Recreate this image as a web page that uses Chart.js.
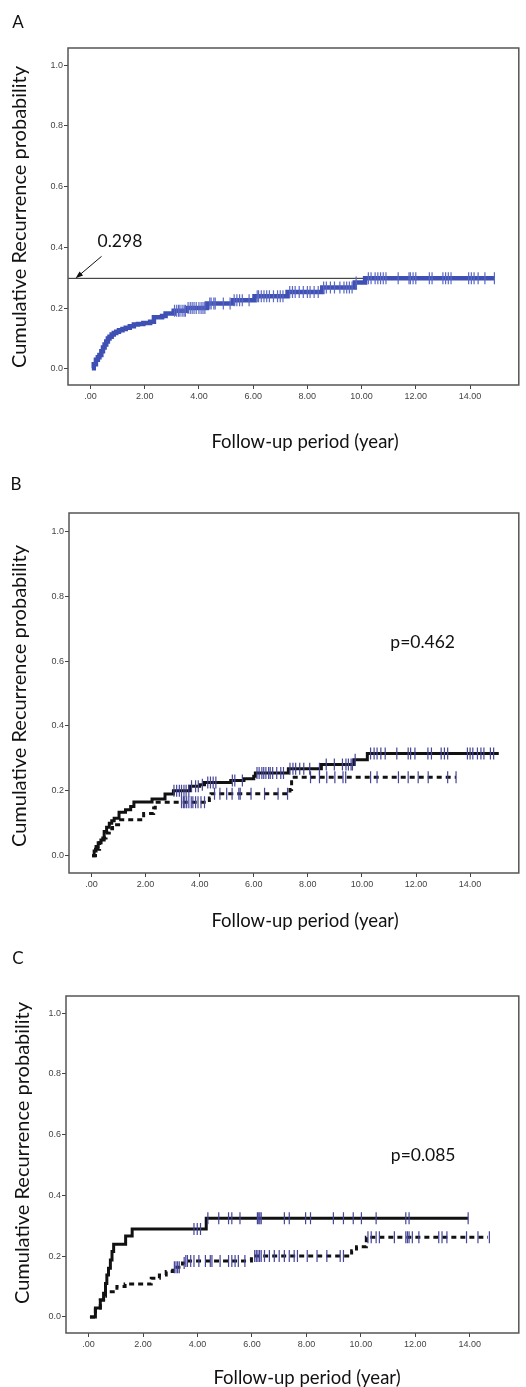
<!DOCTYPE html>
<html>
<head>
<meta charset="utf-8">
<title>Cumulative recurrence</title>
<script src="https://cdn.jsdelivr.net/npm/chart.js@4.4.0/dist/chart.umd.min.js"></script>
<style>
  body { margin: 0; background: #fff; width: 526px; height: 1387px; position: relative; overflow: hidden; }
  .panel { position: absolute; left: 0; }
</style>
</head>
<body>
<canvas id="chartA" class="panel" width="526" height="470" style="top:0px"></canvas>
<canvas id="chartB" class="panel" width="526" height="480" style="top:470px"></canvas>
<canvas id="chartC" class="panel" width="526" height="437" style="top:950px"></canvas>
<script>
// ticks
const xTickValues = [0, 2, 4, 6, 8, 10, 12, 14];
const xTickLabels = ['.00', '2.00', '4.00', '6.00', '8.00', '10.00', '12.00', '14.00'];
const yTickValues = [0, 0.2, 0.4, 0.6, 0.8, 1.0];
const yTickLabels = ['0.0', '0.2', '0.4', '0.6', '0.8', '1.0'];
const xTitle = 'Follow-up period (year)';
const yTitle = 'Cumulative Recurrence probability';

// A: whole cohort
const aTimes = [0.05, 0.12, 0.2, 0.27, 0.33, 0.4, 0.46, 0.52, 0.58, 0.64, 0.7, 0.78, 0.86, 0.95, 1.05, 1.18, 1.3, 1.45, 1.6, 1.75, 1.95, 2.2, 2.34, 2.64, 2.77, 3.07, 3.55, 4.29, 5.26, 6.05, 7.27, 8.55, 9.75, 10.13, 14.92];
const aProbs = [0.002, 0.015, 0.03, 0.038, 0.046, 0.058, 0.07, 0.08, 0.09, 0.1, 0.106, 0.113, 0.118, 0.122, 0.127, 0.131, 0.135, 0.14, 0.146, 0.148, 0.151, 0.155, 0.17, 0.174, 0.182, 0.191, 0.2, 0.215, 0.226, 0.239, 0.253, 0.268, 0.284, 0.298, 0.298];
const aCensor = [3.1, 3.18, 3.25, 3.3, 3.38, 3.45, 3.5, 3.6, 3.68, 3.75, 3.82, 3.9, 4.0, 4.08, 4.15, 4.22, 4.4, 4.45, 4.55, 4.6, 4.9, 5.15, 5.3, 5.4, 5.5, 5.6, 5.85, 6.15, 6.2, 6.3, 6.4, 6.5, 6.6, 6.75, 6.9, 7.0, 7.1, 7.35, 7.45, 7.55, 7.7, 7.85, 8.0, 8.1, 8.25, 8.4, 8.6, 8.7, 8.85, 9.0, 9.2, 9.35, 9.45, 9.55, 9.65, 9.8, 10.25, 10.35, 10.5, 10.6, 10.7, 10.8, 10.9, 11.35, 11.75, 11.8, 11.9, 12.0, 12.5, 12.6, 13.0, 13.1, 13.2, 13.3, 13.95, 14.05, 14.15, 14.3, 14.55, 14.9];
const aPlateau = 0.298;
const aPlateauLabel = '0.298';

// B: two groups
const bSolidTimes = [0.02, 0.1, 0.17, 0.25, 0.35, 0.47, 0.56, 0.66, 0.75, 0.84, 1.02, 1.26, 1.45, 1.57, 2.24, 2.72, 3.03, 3.63, 4.0, 4.18, 5.15, 5.64, 6.0, 6.06, 7.28, 8.5, 9.71, 10.2, 15.06];
const bSolidProbs = [0, 0.015, 0.029, 0.04, 0.049, 0.075, 0.088, 0.1, 0.108, 0.116, 0.134, 0.142, 0.152, 0.166, 0.175, 0.19, 0.2, 0.214, 0.219, 0.226, 0.232, 0.237, 0.245, 0.255, 0.268, 0.281, 0.296, 0.315, 0.315];
const bSolidCensor = [3.05, 3.15, 3.25, 3.33, 3.42, 3.5, 3.6, 3.7, 3.85, 3.95, 4.1, 4.3, 4.4, 4.5, 4.6, 5.21, 5.3, 5.58, 6.12, 6.2, 6.3, 6.37, 6.45, 6.55, 6.61, 6.7, 6.85, 7.0, 7.1, 7.34, 7.45, 7.55, 7.7, 7.85, 8.07, 8.43, 8.68, 8.98, 9.28, 9.41, 9.5, 9.6, 9.65, 9.75, 10.32, 10.45, 10.56, 10.7, 10.86, 11.29, 11.71, 11.8, 11.96, 12.44, 12.57, 12.93, 13.05, 13.17, 13.9, 14.0, 14.1, 14.27, 14.4, 14.51, 14.75, 14.87];
const bDashTimes = [0.03, 0.15, 0.3, 0.42, 0.54, 0.66, 0.78, 1.08, 1.93, 2.3, 2.36, 4.36, 4.42, 7.34, 7.4, 13.48];
const bDashProbs = [0, 0.02, 0.04, 0.055, 0.07, 0.083, 0.096, 0.111, 0.13, 0.147, 0.165, 0.178, 0.191, 0.204, 0.242, 0.242];
const bDashCensor = [3.33, 3.4, 3.45, 3.52, 3.6, 3.69, 3.75, 3.85, 3.94, 4.05, 4.18, 4.55, 4.75, 5.0, 5.2, 5.45, 5.5, 5.9, 6.4, 6.9, 7.25, 8.1, 8.43, 8.7, 9.0, 9.3, 9.4, 10.32, 10.56, 11.35, 11.71, 12.08, 12.45, 13.17, 13.48];
const bPValue = 'p=0.462';

// C: two groups
const cSolidTimes = [0.05, 0.25, 0.43, 0.55, 0.62, 0.67, 0.73, 0.8, 0.86, 0.92, 1.36, 1.6, 4.32, 13.94];
const cSolidProbs = [0, 0.029, 0.056, 0.078, 0.11, 0.138, 0.16, 0.1875, 0.215, 0.239, 0.266, 0.289, 0.325, 0.325];
const cSolidCensor = [3.87, 3.99, 4.11, 4.38, 4.78, 5.14, 5.26, 5.56, 6.2, 6.25, 6.29, 6.34, 7.19, 7.37, 7.97, 8.15, 8.99, 9.36, 9.72, 10.02, 10.56, 11.65, 11.77, 13.94];
const cDashTimes = [0.05, 0.25, 0.43, 0.55, 0.62, 1.04, 1.34, 2.3, 2.6, 2.85, 3.09, 3.45, 3.57, 5.98, 9.66, 9.84, 10.2, 14.67];
const cDashProbs = [0, 0.029, 0.056, 0.068, 0.083, 0.1, 0.108, 0.127, 0.138, 0.149, 0.163, 0.177, 0.184, 0.2, 0.218, 0.231, 0.262, 0.262];
const cDashCensor = [3.15, 3.21, 3.27, 3.33, 3.51, 3.57, 3.63, 3.75, 3.87, 4.05, 4.29, 4.47, 4.53, 4.83, 5.14, 5.26, 5.38, 5.5, 5.74, 6.1, 6.16, 6.22, 6.28, 6.34, 6.46, 6.64, 6.82, 7.0, 7.19, 7.37, 7.55, 7.67, 8.03, 8.39, 8.75, 9.24, 9.36, 10.26, 10.38, 10.56, 10.68, 11.23, 11.65, 11.71, 11.77, 11.89, 12.13, 12.86, 12.98, 13.16, 13.88, 14.3, 14.72];
const cPValue = 'p=0.085';

const X_MIN = -0.83, X_MAX = 15.8;
const Y_MIN = -0.053, Y_MAX = 1.056;

function stepPoints(times, probs) {
  return times.map((t, i) => ({ x: t, y: probs[i] }));
}

// censored cases sit on the curve at the value reached by then
function censorPoints(censor, times, probs) {
  return censor.map(t => {
    let y = probs[0];
    for (let i = 0; i < times.length; i++) {
      if (times[i] <= t) y = probs[i];
    }
    return { x: t, y: y };
  });
}

function stepSet(times, probs, color, width, dash) {
  return {
    data: stepPoints(times, probs),
    stepped: 'before',
    borderColor: color,
    borderWidth: width,
    borderDash: dash || [],
    pointRadius: 0,
    fill: false,
    order: 2
  };
}

function censorSet(censor, times, probs, color, radius) {
  return {
    data: censorPoints(censor, times, probs),
    showLine: false,
    pointStyle: 'line',
    pointRotation: 90,
    pointRadius: radius,
    pointBorderWidth: 1.2,
    pointBorderColor: color,
    pointBackgroundColor: color,
    order: 1
  };
}

const panelText = {
  id: 'panelText',
  afterDraw(chart, args, opts) {
    const ctx = chart.ctx;
    const a = chart.chartArea;
    const xs = chart.scales.x, ys = chart.scales.y;
    ctx.save();
    ctx.strokeStyle = '#555';
    ctx.lineWidth = 1.5;
    ctx.strokeRect(a.left, a.top, a.right - a.left, a.bottom - a.top);

    ctx.fillStyle = '#111';
    ctx.textAlign = 'center';
    ctx.textBaseline = 'middle';
    ctx.font = '17px Lato';
    ctx.fillText(opts.letter, opts.letterPos[0], opts.letterPos[1]);

    ctx.font = '18.5px Lato';
    ctx.fillText(xTitle, opts.xTitlePos[0], opts.xTitlePos[1]);
    ctx.font = '20px Lato';
    ctx.save();
    ctx.translate(opts.yTitlePos[0], opts.yTitlePos[1]);
    ctx.rotate(-Math.PI / 2);
    ctx.fillText(yTitle, 0, 0);
    ctx.restore();

    if (opts.note) {
      ctx.textAlign = 'left';
      ctx.font = '17.5px Lato';
      ctx.fillText(opts.note, xs.getPixelForValue(opts.noteAt[0]), ys.getPixelForValue(opts.noteAt[1]));
    }

    if (opts.arrow) {
      // arrow pointing at the plateau line
      const hx = xs.getPixelForValue(opts.arrow.x);
      const hy = ys.getPixelForValue(opts.arrow.y);
      const tx = hx + 26, ty = hy - 22;
      ctx.strokeStyle = '#111';
      ctx.lineWidth = 1;
      ctx.beginPath();
      ctx.moveTo(tx, ty);
      ctx.lineTo(hx + 4, hy - 3.4);
      ctx.stroke();
      const ang = Math.atan2(hy - ty, hx - tx);
      ctx.beginPath();
      ctx.moveTo(hx, hy);
      ctx.lineTo(hx - 8 * Math.cos(ang - 0.35), hy - 8 * Math.sin(ang - 0.35));
      ctx.lineTo(hx - 8 * Math.cos(ang + 0.35), hy - 8 * Math.sin(ang + 0.35));
      ctx.closePath();
      ctx.fillStyle = '#111';
      ctx.fill();
      ctx.textAlign = 'left';
      ctx.font = '17.5px Lato';
      ctx.fillText(opts.arrow.label, tx - 4, ty - 15);
    }
    ctx.restore();
  }
};

function makeChart(id, area, datasets, textOpts) {
  const canvas = document.getElementById(id);
  const W = canvas.width, H = canvas.height;
  return new Chart(canvas, {
    type: 'line',
    data: { datasets: datasets },
    options: {
      responsive: false,
      animation: false,
      devicePixelRatio: 1,
      layout: { padding: { left: 0, top: area.top, right: W - area.right, bottom: 0 } },
      plugins: {
        legend: { display: false },
        tooltip: { enabled: false },
        panelText: textOpts
      },
      scales: {
        x: {
          type: 'linear',
          min: X_MIN,
          max: X_MAX,
          afterBuildTicks: s => { s.ticks = xTickValues.map(v => ({ value: v })); },
          afterFit: s => { s.height = H - area.bottom; },
          ticks: {
            padding: 2,
            maxRotation: 0,
            color: '#444',
            font: { family: 'Liberation Sans', size: 9 },
            callback: v => xTickLabels[xTickValues.indexOf(v)]
          },
          grid: { drawOnChartArea: false, drawTicks: true, tickLength: 4, color: '#444' },
          border: { display: false }
        },
        y: {
          min: Y_MIN,
          max: Y_MAX,
          afterBuildTicks: s => { s.ticks = yTickValues.map(v => ({ value: v })); },
          afterFit: s => { s.width = area.left; },
          ticks: {
            padding: 1,
            color: '#444',
            font: { family: 'Liberation Sans', size: 9 },
            callback: v => yTickLabels[yTickValues.indexOf(v)]
          },
          grid: { drawOnChartArea: false, drawTicks: true, tickLength: 4, color: '#444' },
          border: { display: false }
        }
      }
    },
    plugins: [panelText]
  });
}

const blueLine = '#3f50b4';
const blueTick = '#5a68c4';
const navyTick = '#45459a';
const black = '#111';

makeChart('chartA', { left: 68, top: 48, right: 523, bottom: 385 }, [
  {
    data: [{ x: X_MIN, y: aPlateau }, { x: aTimes[aTimes.length - 1], y: aPlateau }],
    borderColor: '#222', borderWidth: 1, pointRadius: 0, order: 3
  },
  stepSet(aTimes, aProbs, blueLine, 4.5),
  censorSet(aCensor, aTimes, aProbs, blueTick, 6)
], {
  letter: 'A', letterPos: [18, 23],
  yTitlePos: [20, 217], xTitlePos: [305, 442],
  arrow: { x: -0.55, y: aPlateau, label: aPlateauLabel }
});

makeChart('chartB', { left: 69, top: 43, right: 525, bottom: 403 }, [
  stepSet(bSolidTimes, bSolidProbs, black, 3),
  stepSet(bDashTimes, bDashProbs, black, 3, [5, 4]),
  censorSet(bSolidCensor, bSolidTimes, bSolidProbs, navyTick, 6),
  censorSet(bDashCensor, bDashTimes, bDashProbs, navyTick, 6)
], {
  letter: 'B', letterPos: [16, 15],
  yTitlePos: [20, 226], xTitlePos: [305, 451],
  note: bPValue, noteAt: [11.05, 0.657]
});

makeChart('chartC', { left: 66, top: 46, right: 525, bottom: 383 }, [
  stepSet(cSolidTimes, cSolidProbs, black, 3),
  stepSet(cDashTimes, cDashProbs, black, 3, [5, 4]),
  censorSet(cSolidCensor, cSolidTimes, cSolidProbs, navyTick, 6),
  censorSet(cDashCensor, cDashTimes, cDashProbs, navyTick, 6)
], {
  letter: 'C', letterPos: [18, 9],
  yTitlePos: [23, 203], xTitlePos: [307, 428],
  note: cPValue, noteAt: [11.1, 0.533]
});
</script>
</body>
</html>
